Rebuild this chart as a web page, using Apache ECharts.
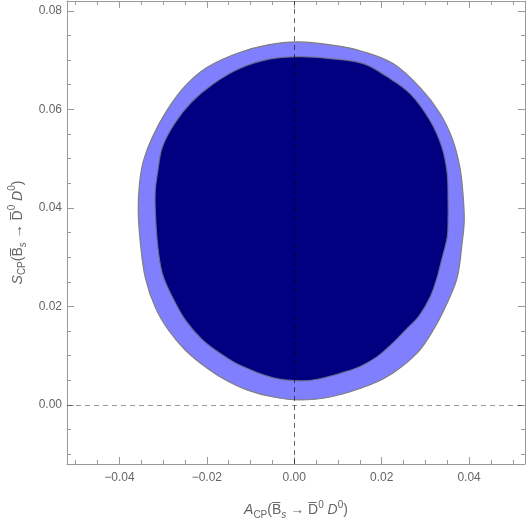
<!DOCTYPE html>
<html>
<head>
<meta charset="utf-8">
<script src="https://cdn.jsdelivr.net/npm/echarts@6/dist/echarts.min.js"></script>
<style>
  html, body { margin: 0; padding: 0; background: #fff; }
  #chart { width: 532px; height: 523px; }
</style>
</head>
<body>
<div id="chart"></div>
<script>
// contour of the outer (light) region, clockwise from the top
var outerA = [0.0011, 0.0098, 0.0151, 0.0226, 0.0288, 0.0334, 0.0363, 0.0379, 0.0386, 0.0389, 0.0384, 0.0373, 0.0350, 0.0318, 0.0281, 0.0226, 0.0174, 0.0082, 0.0011, -0.0048, -0.0107, -0.0158, -0.0203, -0.0249, -0.0288, -0.0318, -0.0341, -0.0352, -0.0357, -0.0354, -0.0345, -0.0325, -0.0292, -0.0250, -0.0200, -0.0130, -0.0060]
var outerS = [0.0737, 0.0729, 0.0719, 0.0693, 0.0644, 0.0591, 0.0537, 0.0482, 0.0429, 0.0375, 0.0328, 0.0259, 0.0207, 0.0152, 0.0105, 0.0065, 0.0041, 0.0016, 0.0010, 0.0016, 0.0030, 0.0051, 0.0077, 0.0111, 0.0152, 0.0198, 0.0259, 0.0328, 0.0395, 0.0450, 0.0496, 0.0543, 0.0597, 0.0647, 0.0685, 0.0714, 0.0731]
// contour of the inner (dark) region
var innerA = [0.0011, 0.0082, 0.0158, 0.0213, 0.0265, 0.0311, 0.0338, 0.0350, 0.0352, 0.0352, 0.0350, 0.0336, 0.0327, 0.0311, 0.0285, 0.0258, 0.0226, 0.0190, 0.0151, 0.0112, 0.0053, 0.0011, -0.0048, -0.0123, -0.0165, -0.0210, -0.0249, -0.0279, -0.0302, -0.0313, -0.0318, -0.0318, -0.0313, -0.0302, -0.0274, -0.0236, -0.0185, -0.0125, -0.0057]
var innerS = [0.0707, 0.0703, 0.0693, 0.0666, 0.0632, 0.0577, 0.0523, 0.0470, 0.0415, 0.0375, 0.0340, 0.0290, 0.0259, 0.0219, 0.0180, 0.0155, 0.0126, 0.0098, 0.0078, 0.0066, 0.0052, 0.0049, 0.0055, 0.0080, 0.0102, 0.0132, 0.0172, 0.0219, 0.0267, 0.0328, 0.0395, 0.0435, 0.0470, 0.0523, 0.0571, 0.0614, 0.0652, 0.0683, 0.0702]

var xMajor = [-0.04, -0.02, 0, 0.02, 0.04]
var xMinor = [-0.05, -0.045, -0.035, -0.03, -0.025, -0.015, -0.01, -0.005, 0.005, 0.01, 0.015, 0.025, 0.03, 0.035, 0.045, 0.05]
var yMajor = [0, 0.02, 0.04, 0.06, 0.08]
var yMinor = [-0.01, -0.005, 0.005, 0.01, 0.015, 0.025, 0.03, 0.035, 0.045, 0.05, 0.055, 0.065, 0.07, 0.075]

var xRange = [-0.052, 0.0528]
var yRange = [-0.012, 0.082]

var frame = '#9a9a9a'
var textColor = '#666'

function zip (a, b) {
  return a.map(function (v, i) { return [v, b[i]] })
}

function fmt (v) {
  return v.toFixed(2).replace('-', '\u2212')
}

function region (name, xs, ys, fill, edge, z) {
  var pts = zip(xs, ys)
  return {
    name: name,
    type: 'custom',
    xAxisIndex: 0,
    yAxisIndex: 0,
    z: z,
    data: pts,
    encode: { x: 0, y: 1 },
    renderItem: function (params, api) {
      if (params.dataIndex !== 0) return null
      return {
        type: 'polygon',
        shape: { points: pts.map(function (p) { return api.coord(p) }), smooth: 0.35 },
        style: { fill: fill, stroke: edge, lineWidth: 1.2 }
      }
    }
  }
}

var font = 'Liberation Sans'
var rich = {
  i: { fontStyle: 'italic', fontSize: 14, lineHeight: 20, color: textColor, fontFamily: font },
  n: { fontSize: 14, lineHeight: 20, color: textColor, fontFamily: font },
  sub: { fontSize: 10, color: textColor, verticalAlign: 'bottom', lineHeight: 10, fontFamily: font },
  subi: { fontSize: 10, fontStyle: 'italic', color: textColor, verticalAlign: 'bottom', lineHeight: 10, fontFamily: font },
  sup: { fontSize: 10, color: textColor, verticalAlign: 'top', lineHeight: 10, fontFamily: font }
}

function axisName (letter) {
  return '{i|' + letter + '}{sub|CP}{n|(B\u0305}{subi|s}{n| \u2192 D\u0305}{sup|0}{i| D}{sup|0}{n|)}'
}

function xAxis (pos, ticks, len, labels, line) {
  return {
    type: 'value',
    position: pos,
    min: xRange[0],
    max: xRange[1],
    axisLine: { show: line, onZero: false, lineStyle: { color: frame, width: 1 } },
    axisTick: { show: true, inside: true, length: len, customValues: ticks, lineStyle: { color: frame } },
    axisLabel: { show: labels, customValues: ticks, formatter: fmt, color: textColor, fontSize: 12, margin: 8, fontFamily: font },
    splitLine: { show: false }
  }
}

function yAxis (pos, ticks, len, labels, line) {
  return {
    type: 'value',
    position: pos,
    min: yRange[0],
    max: yRange[1],
    axisLine: { show: line, onZero: false, lineStyle: { color: frame, width: 1 } },
    axisTick: { show: true, inside: true, length: len, customValues: ticks, lineStyle: { color: frame } },
    axisLabel: { show: labels, customValues: ticks, formatter: fmt, color: textColor, fontSize: 12, margin: 5, fontFamily: font },
    splitLine: { show: false }
  }
}

var xMain = xAxis('bottom', xMajor, 7, true, true)
xMain.name = axisName('A')
xMain.nameLocation = 'middle'
xMain.nameGap = 36
xMain.nameTextStyle = { rich: rich }

var yMain = yAxis('left', yMajor, 7, true, true)
yMain.name = axisName('S')
yMain.nameLocation = 'middle'
yMain.nameGap = 34
yMain.nameTextStyle = { rich: rich }

var chart = echarts.init(document.getElementById('chart'))
chart.setOption({
  backgroundColor: '#fff',
  animation: false,
  grid: { left: 67, right: 7, top: 1, bottom: 59, containLabel: false, outerBoundsMode: 'none' },
  xAxis: [
    xMain,
    xAxis('bottom', xMinor, 4, false, false),
    xAxis('top', xMajor, 7, false, true),
    xAxis('top', xMinor, 4, false, false)
  ],
  yAxis: [
    yMain,
    yAxis('left', yMinor, 4, false, false),
    yAxis('right', yMajor, 7, false, true),
    yAxis('right', yMinor, 4, false, false)
  ],
  series: [
    region('outer', outerA, outerS, '#8080ff', '#7f7f7f', 2),
    region('inner', innerA, innerS, '#000080', 'rgba(110,110,140,0.9)', 3),
    {
      type: 'line',
      xAxisIndex: 0,
      yAxisIndex: 0,
      z: 5,
      data: [],
      markLine: {
        silent: true,
        symbol: 'none',
        label: { show: false },
        data: [
          { xAxis: 0, lineStyle: { color: 'rgba(0,0,0,0.6)', type: [5, 4], width: 1 } },
          { yAxis: 0, lineStyle: { color: 'rgba(0,0,0,0.4)', type: [5, 4], width: 1 } }
        ]
      }
    }
  ]
})
</script>
</body>
</html>
